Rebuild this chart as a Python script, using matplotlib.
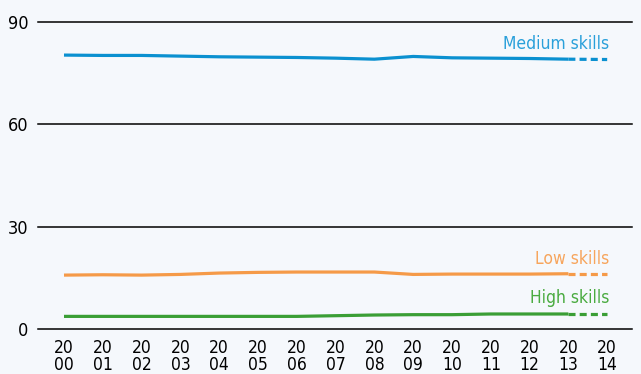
import matplotlib.pyplot as plt

years = list(range(2000, 2015))
medium = [80.3, 80.2, 80.2, 80.0, 79.8, 79.7, 79.6, 79.4, 79.1, 79.9, 79.5, 79.4, 79.3, 79.1, 79.0]
low = [15.8, 15.9, 15.8, 16.0, 16.4, 16.6, 16.7, 16.7, 16.7, 16.0, 16.1, 16.1, 16.1, 16.2, 16.2]
high = [3.7, 3.7, 3.7, 3.7, 3.7, 3.7, 3.7, 3.9, 4.1, 4.2, 4.2, 4.4, 4.4, 4.4, 4.4]
names = ['Medium skills', 'Low skills', 'High skills']
label_y = [83.5, 20.6, 9.0]
yticks = [0, 30, 60, 90]
xlabels = [str(y)[:2] + '\n' + str(y)[2:] for y in years]

bg = '#f5f8fc'
line_cols = ['#0a90d0', '#f59a48', '#3a9e35']
text_cols = ['#2aa0da', '#f7a55c', '#4aab40']
fonts = ['DejaVu Sans']

fig = plt.figure(figsize=(6.41, 3.74), dpi=100, facecolor=bg)
ax = fig.add_axes([38/641, 45/374, 594/641, 307/374])
ax.set_facecolor(bg)

for yt in yticks:
    ax.axhline(yt, color='black', lw=1.1, clip_on=False, zorder=1)

for vals, c, tc, nm, ly in zip([medium, low, high], line_cols, text_cols, names, label_y):
    ax.plot(years[:-1], vals[:-1], color=c, lw=2.3, solid_capstyle='butt', zorder=3)
    ax.plot(years[-2:], vals[-2:], color=c, lw=2.3, dashes=(2.2, 1.3), zorder=3)
    ax.text(2014.05, ly, nm, color=tc, ha='right', va='center', fontsize=12.5,
            family=fonts, stretch='condensed')

ax.set_xlim(1999.33, 2014.64)
ax.set_ylim(0, 90)
ax.set_yticks(yticks)
ax.set_yticklabels([str(t) for t in yticks], family=fonts, fontsize=13, stretch='condensed')
ax.set_xticks(years)
ax.set_xticklabels(xlabels, family=fonts, fontsize=12.5, linespacing=0.95, stretch='condensed')
ax.tick_params(length=0, pad=7)
ax.tick_params(axis='x', pad=7)
for s in ax.spines.values():
    s.set_visible(False)

plt.savefig('out.png', facecolor=bg)
